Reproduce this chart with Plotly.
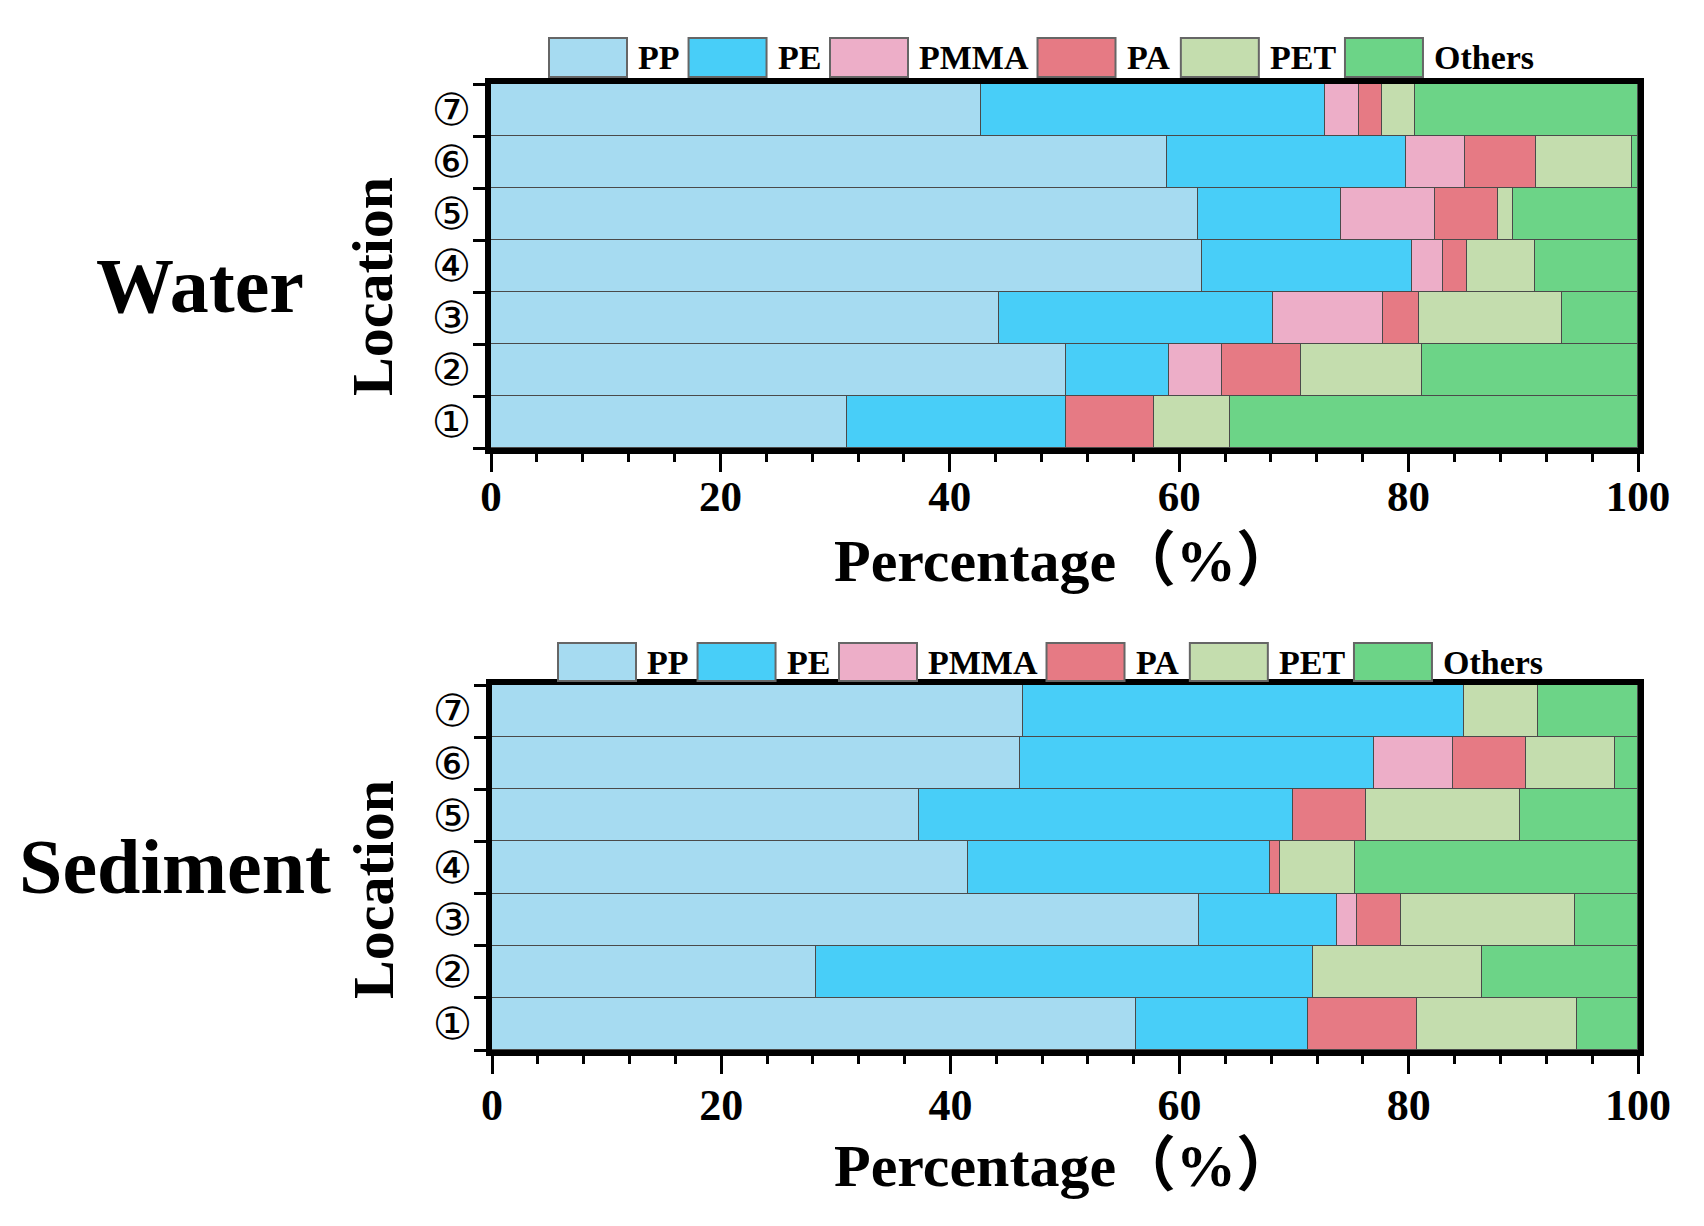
import plotly.graph_objects as go

# ---------------- data ----------------
locations = ["①", "②", "③", "④", "⑤", "⑥", "⑦"]
polymers = ["PP", "PE", "PMMA", "PA", "PET", "Others"]

water_pp = [31.0, 50.1, 44.3, 62.0, 61.6, 58.9, 42.7]
water_pe = [19.1, 9.0, 23.9, 18.3, 12.5, 20.9, 30.0]
water_pmma = [0.0, 4.6, 9.6, 2.7, 8.2, 5.1, 3.0]
water_pa = [7.7, 6.9, 3.1, 2.1, 5.5, 6.2, 2.0]
water_pet = [6.6, 10.6, 12.5, 5.9, 1.3, 8.4, 2.9]
water_others = [35.6, 18.8, 6.6, 9.0, 10.9, 0.5, 19.4]

sed_pp = [56.2, 28.3, 61.7, 41.5, 37.3, 46.1, 46.3]
sed_pe = [15.0, 43.3, 12.0, 26.4, 32.6, 30.9, 38.5]
sed_pmma = [0.0, 0.0, 1.8, 0.0, 0.0, 6.9, 0.0]
sed_pa = [9.5, 0.0, 3.8, 0.9, 6.4, 6.3, 0.0]
sed_pet = [14.0, 14.8, 15.2, 6.5, 13.4, 7.8, 6.5]
sed_others = [5.3, 13.6, 5.5, 24.7, 10.3, 2.0, 8.7]

colors = ["#A6DBF1", "#48CEF8", "#EDAEC8", "#E67A84", "#C4DDAE", "#6CD487"]

x_title = "Percentage（%）"
y_title = "Location"

# ---------------- layout helpers ----------------
W, H = 1704, 1226
def px(x):
    return x / W
def py(y):
    return 1 - y / H

SERIF = "Liberation Serif, Times New Roman, serif"
CJK = "Noto Sans CJK SC"

# approximate Times-Bold advance widths (em) for legend text layout
adv = {"P": 0.611, "E": 0.667, "M": 0.944, "A": 0.722, "T": 0.667, "O": 0.778,
       "t": 0.333, "h": 0.556, "e": 0.444, "r": 0.444, "s": 0.389}
def text_w(s, size):
    return sum(adv.get(c, 0.5) for c in s) * size

panels = [
    dict(name="Water", data=[water_pp, water_pe, water_pmma, water_pa, water_pet, water_others],
         x0=491, x1=1638, top=84, bottom=448, leg_x=549, leg_top=38, leg_bot=77,
         label_xy=(200, 285), loc_y=287, tick_size=43, tick_off=-13, title_y=561),
    dict(name="Sediment", data=[sed_pp, sed_pe, sed_pmma, sed_pa, sed_pet, sed_others],
         x0=492, x1=1638, top=685, bottom=1050, leg_x=558, leg_top=643, leg_bot=681,
         label_xy=(175, 866), loc_y=890, tick_size=44, tick_off=-7, title_y=1166),
]

fig = go.Figure()
shapes = []
annotations = []

for i, p in enumerate(panels):
    xa = "x" if i == 0 else f"x{i+1}"
    ya = "y" if i == 0 else f"y{i+1}"
    for name, vals, col in zip(polymers, p["data"], colors):
        fig.add_trace(go.Bar(
            x=vals, y=locations, orientation="h", name=name,
            marker=dict(color=col, line=dict(color="#4a4a4a", width=1.5)),
            xaxis=xa, yaxis=ya, showlegend=False,
        ))
    axkey = "" if i == 0 else str(i + 1)
    fig.update_layout(**{
        f"xaxis{axkey}": dict(
            domain=[px(p["x0"]), px(p["x1"])], anchor=ya, range=[0, 100],
            automargin=False,
            showgrid=False, zeroline=False,
            showline=True, linecolor="black", linewidth=6, mirror=True,
            ticks="outside", ticklen=18, tickwidth=3, tickcolor="black", dtick=20,
            ticklabelstandoff=p["tick_off"],
            minor=dict(dtick=4, ticks="outside", ticklen=8, tickwidth=3, tickcolor="black"),
            tickfont=dict(family=SERIF, size=p["tick_size"], color="black", weight="bold"),
        ),
        f"yaxis{axkey}": dict(
            domain=[py(p["bottom"]), py(p["top"])], anchor=xa,
            automargin=False,
            type="category", categoryorder="array", categoryarray=locations,
            tickmode="linear", tick0=0, dtick=1,
            showgrid=False, zeroline=False,
            showline=True, linecolor="black", linewidth=6, mirror=True,
            ticks="outside", ticklen=12, tickwidth=3, tickcolor="black",
            tickson="boundaries", ticklabelstandoff=5,
            tickfont=dict(family="DejaVu Sans, " + CJK, size=44, color="black"),
        ),
    })
    # panel label
    annotations.append(dict(
        x=px(p["label_xy"][0]), y=py(p["label_xy"][1]), xref="paper", yref="paper",
        text=p["name"], showarrow=False, xanchor="center", yanchor="middle",
        font=dict(family=SERIF, size=78, color="black", weight="bold")))
    # x axis title
    annotations.append(dict(
        x=px((p["x0"] + p["x1"]) / 2), y=py(p["title_y"]), xref="paper", yref="paper",
        text=x_title, showarrow=False, xanchor="center", yanchor="middle",
        font=dict(family=SERIF + ", " + CJK, size=60, color="black", weight="bold")))
    # y axis title
    annotations.append(dict(
        x=px(373), y=py(p["loc_y"]), xref="paper", yref="paper",
        text=y_title, showarrow=False, textangle=-90, xanchor="center", yanchor="middle",
        font=dict(family=SERIF, size=58, color="black", weight="bold")))
    # custom legend
    lx = p["leg_x"]
    lsize = 34
    for name, col in zip(polymers, colors):
        shapes.append(dict(type="rect", xref="paper", yref="paper",
                           x0=px(lx), x1=px(lx + 78), y0=py(p["leg_bot"]), y1=py(p["leg_top"]),
                           fillcolor=col, line=dict(color="#666666", width=2)))
        annotations.append(dict(
            x=px(lx + 87), y=py((p["leg_top"] + p["leg_bot"]) / 2), xref="paper", yref="paper",
            text=name, showarrow=False, xanchor="left", yanchor="middle",
            font=dict(family=SERIF, size=lsize, color="black", weight="bold")))
        lx += 78 + 9 + text_w(name, lsize) + 11

fig.update_layout(
    barmode="stack", bargap=0, autosize=False,
    width=W, height=H, margin=dict(l=0, r=0, t=0, b=0, autoexpand=False),
    paper_bgcolor="white", plot_bgcolor="white",
    shapes=shapes, annotations=annotations,
)

fig.write_html("out.html", config={"responsive": False})
